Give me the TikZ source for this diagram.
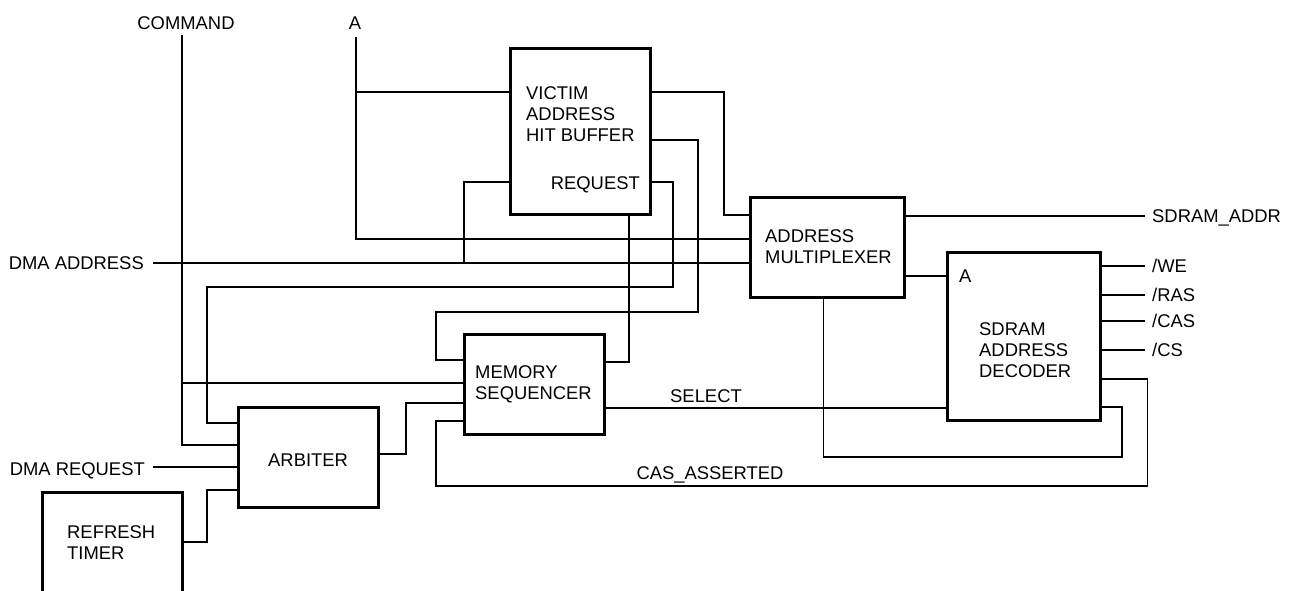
\documentclass[tikz,border=0pt]{standalone}
\usepackage{fontspec}
\setmainfont{Liberation Sans}
\begin{document}
\begin{tikzpicture}[x=1pt,y=-1pt,
  blk/.style={draw,line width=3pt,inner sep=0pt},
  wire/.style={line width=1.7pt},
  txt/.style={inner sep=0pt,align=left,font=\fontsize{18.4}{21}\selectfont}]
\clip (0,0) rectangle (1291,590);
\fill[white] (0,0) rectangle (1291,590);
% blocks
\node[blk,minimum width=140pt,minimum height=166pt] (vahb) at (580,131) {};
\node[blk,minimum width=153.5pt,minimum height=100pt] (amux) at (827.7,247) {};
\node[blk,minimum width=153pt,minimum height=167.5pt] (dec) at (1024.2,336.3) {};
\node[blk,minimum width=140pt,minimum height=100pt] (mseq) at (534,384) {};
\node[blk,minimum width=140pt,minimum height=100pt] (arb) at (308,457) {};
\node[blk,minimum width=140pt,minimum height=140pt] (rt) at (112,562) {};
% block texts (base anchor = baseline of last line)
\node[txt,anchor=base west] (tvahb) at (526,141) {VICTIM\\ADDRESS\\HIT BUFFER};
\node[txt,anchor=base east] (treq) at (640,189) {REQUEST};
\node[txt,anchor=base west] (tamux) at (765,263) {ADDRESS\\MULTIPLEXER};
\node[txt,anchor=base west] (tdeca) at (959,282) {A};
\node[txt,anchor=base west] (tdec) at (979,377) {SDRAM\\ADDRESS\\DECODER};
\node[txt,anchor=base west] (tmseq) at (475,399) {MEMORY\\SEQUENCER};
\node[txt,anchor=base west] (tarb) at (268,466) {ARBITER};
\node[txt,anchor=base west] (trt) at (67,559) {REFRESH\\TIMER};
% signal labels
\node[txt,anchor=base] (lcmd) at (186,29) {COMMAND};
\node[txt,anchor=base] (la) at (355,29) {A};
\node[txt,anchor=base east] (ldmaa) at (144,269) {DMA ADDRESS};
\node[txt,anchor=base east] (ldmar) at (145,475) {DMA REQUEST};
\node[txt,anchor=base] (lsel) at (706,402) {SELECT};
\node[txt,anchor=base] (lcas) at (710,479) {CAS\_ASSERTED};
\node[txt,anchor=base west] (lsda) at (1152,222) {SDRAM\_ADDR};
\node[txt,anchor=base west] (lwe) at (1152,272) {/WE};
\node[txt,anchor=base west] (lras) at (1152,301) {/RAS};
\node[txt,anchor=base west] (lcasn) at (1152,327) {/CAS};
\node[txt,anchor=base west] (lcs) at (1152,356) {/CS};
% free ends
\coordinate (cmdtop) at (182,35);
\coordinate (atop) at (356,37);
\coordinate (dmaa) at (153,263);
\coordinate (dmar) at (153,467);
\coordinate (sdaddr) at (1145,216);
\coordinate (owe) at (1145,266);
\coordinate (oras) at (1145,295);
\coordinate (ocas) at (1145,321);
\coordinate (ocs) at (1145,350);
% wires
\draw[wire] (cmdtop) -- (cmdtop |- 0,445) -- (arb.west |- 0,445);
\draw[wire] (cmdtop |- 0,383) -- (mseq.west |- 0,383);
\draw[wire] (atop) -- (atop |- 0,239) -- (amux.west |- 0,239);
\draw[wire] (atop |- 0,92) -- (vahb.west |- 0,92);
\draw[wire] (dmaa) -- (amux.west |- dmaa);
\draw[wire] (vahb.west |- 0,182) -- (464,182) -- (464,263);
\draw[wire] (vahb.east |- 0,182) -- (673,182) -- (673,287) -- (207,287) -- (207,423) -- (arb.west |- 0,423);
\draw[wire] (vahb.east |- 0,140) -- (698,140) -- (698,312) -- (436,312) -- (436,360) -- (mseq.west |- 0,360);
\draw[wire] (vahb.south -| 629,0) -- (629,362) -- (mseq.east |- 0,362);
\draw[wire] (vahb.east |- 0,92) -- (724,92) -- (724,215) -- (amux.west |- 0,215);
\draw[wire] (amux.east |- sdaddr) -- (sdaddr);
\draw[wire] (amux.east |- 0,276) -- (dec.west |- 0,276);
\draw[wire] (amux.south -| 823.5,0) -- (823.5,457) -- (1122,457) -- (1122,407) -- (dec.east |- 0,407);
\draw[wire] (dec.east |- owe) -- (owe);
\draw[wire] (dec.east |- oras) -- (oras);
\draw[wire] (dec.east |- ocas) -- (ocas);
\draw[wire] (dec.east |- ocs) -- (ocs);
\draw[wire] (dec.east |- 0,379) -- (1147.5,379) -- (1147.5,486) -- (436,486) -- (436,421) -- (mseq.west |- 0,421);
\draw[wire] (mseq.east |- 0,408) -- (dec.west |- 0,408);
\draw[wire] (arb.east |- 0,454) -- (406,454) -- (406,403) -- (mseq.west |- 0,403);
\draw[wire] (dmar) -- (arb.west |- dmar);
\draw[wire] (rt.east |- 0,542) -- (207,542) -- (207,490) -- (arb.west |- 0,490);
\end{tikzpicture}
\end{document}
